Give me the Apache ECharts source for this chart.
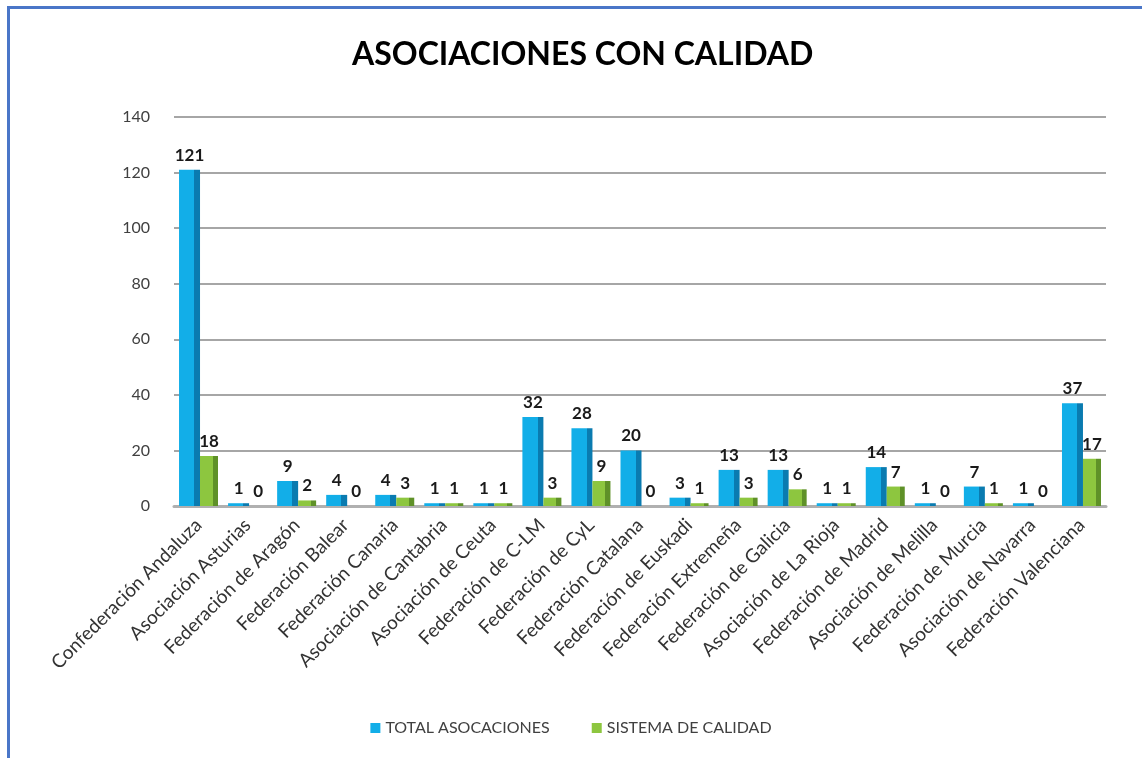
<!DOCTYPE html>
<html>
<head>
<meta charset="utf-8">
<script src="https://cdn.jsdelivr.net/npm/echarts@6/dist/echarts.min.js"></script>
<style>
    html, body { margin: 0; padding: 0; background: #ffffff; }
    #wrap { position: relative; width: 1142px; height: 758px; overflow: hidden; }
    #frame {
        position: absolute; left: 7px; top: 6px; width: 1200px; height: 800px;
        border-left: 3px solid #4a76c8; border-top: 3px solid #4a76c8;
        box-sizing: border-box;
    }
    #chart { position: absolute; left: 0; top: 0; width: 1142px; height: 758px; }
</style>
</head>
<body>
<div id="wrap">
    <div id="frame"></div>
    <div id="chart"></div>
</div>
<script>
const categories = [
    'Confederación Andaluza', 'Asociación Asturias', 'Federación de Aragón', 'Federación Balear',
    'Federación Canaria', 'Asociación de Cantabria', 'Asociación de Ceuta', 'Federación de C-LM',
    'Federación de CyL', 'Federación Catalana', 'Federación de Euskadi', 'Federación Extremeña',
    'Federación de Galicia', 'Asociación de La Rioja', 'Federación de Madrid', 'Asociación de Melilla',
    'Federación de Murcia', 'Asociación de Navarra', 'Federación Valenciana'
]
const totalAsociaciones = [121, 1, 9, 4, 4, 1, 1, 32, 28, 20, 3, 13, 13, 1, 14, 1, 7, 1, 37]
const sistemaCalidad = [18, 0, 2, 0, 3, 1, 1, 3, 9, 0, 1, 3, 6, 1, 7, 0, 1, 0, 17]
const yTicks = [0, 20, 40, 60, 80, 100, 120, 140]

function shaded(light, dark) {
    // fake 3D: lighter front face, darker right side
    return new echarts.graphic.LinearGradient(0, 0, 1, 0, [
        { offset: 0, color: light },
        { offset: 0.72, color: light },
        { offset: 0.72, color: dark },
        { offset: 1, color: dark }
    ])
}

const myChart = echarts.init(document.getElementById('chart'))

const labelStyle = {
    show: true,
    position: 'top',
    distance: 6,
    color: '#1a1a1a',
    fontFamily: 'Lato',
    fontWeight: 'bold',
    fontSize: 17
}

const option = {
    backgroundColor: 'transparent',
    animation: false,
    title: {
        text: 'ASOCIACIONES CON CALIDAD',
        left: 347,
        top: 34,
        textStyle: {
            fontFamily: 'Lato',
            fontWeight: 'bold',
            fontSize: 32,
            color: '#000000'
        }
    },
    legend: {
        bottom: 17,
        left: 'center',
        itemWidth: 10,
        itemHeight: 10,
        itemGap: 42,
        icon: 'rect',
        textStyle: { fontFamily: 'Lato', fontSize: 16, color: '#404040' },
        data: [
            { name: 'TOTAL ASOCACIONES', itemStyle: { color: '#12aee8' } },
            { name: 'SISTEMA DE CALIDAD', itemStyle: { color: '#8dc63f' } }
        ]
    },
    grid: { left: 174, right: 36, top: 117, bottom: 252 },
    xAxis: {
        type: 'category',
        data: categories,
        axisTick: { show: false },
        axisLine: { show: true, lineStyle: { color: '#b0b0b0', width: 3 } },
        axisLabel: {
            interval: 0,
            rotate: 45,
            margin: 16,
            fontFamily: 'Lato',
            fontSize: 19,
            color: '#333333'
        }
    },
    yAxis: {
        type: 'value',
        min: yTicks[0],
        max: yTicks[yTicks.length - 1],
        interval: 20,
        axisLine: { show: false },
        axisTick: { show: false },
        axisLabel: {
            margin: 24,
            fontFamily: 'Lato',
            fontSize: 16,
            color: '#404040'
        },
        splitLine: { lineStyle: { color: '#a6a6a6', width: 2 } }
    },
    series: [
        {
            name: 'TOTAL ASOCACIONES',
            type: 'bar',
            data: totalAsociaciones,
            barWidth: 21,
            barGap: '0%',
            itemStyle: { color: shaded('#12aee8', '#0a7bb0') },
            label: labelStyle
        },
        {
            name: 'SISTEMA DE CALIDAD',
            type: 'bar',
            data: sistemaCalidad,
            barWidth: 18,
            itemStyle: { color: shaded('#8dc63f', '#5f9128') },
            label: labelStyle
        }
    ]
}

myChart.setOption(option)
</script>
</body>
</html>
